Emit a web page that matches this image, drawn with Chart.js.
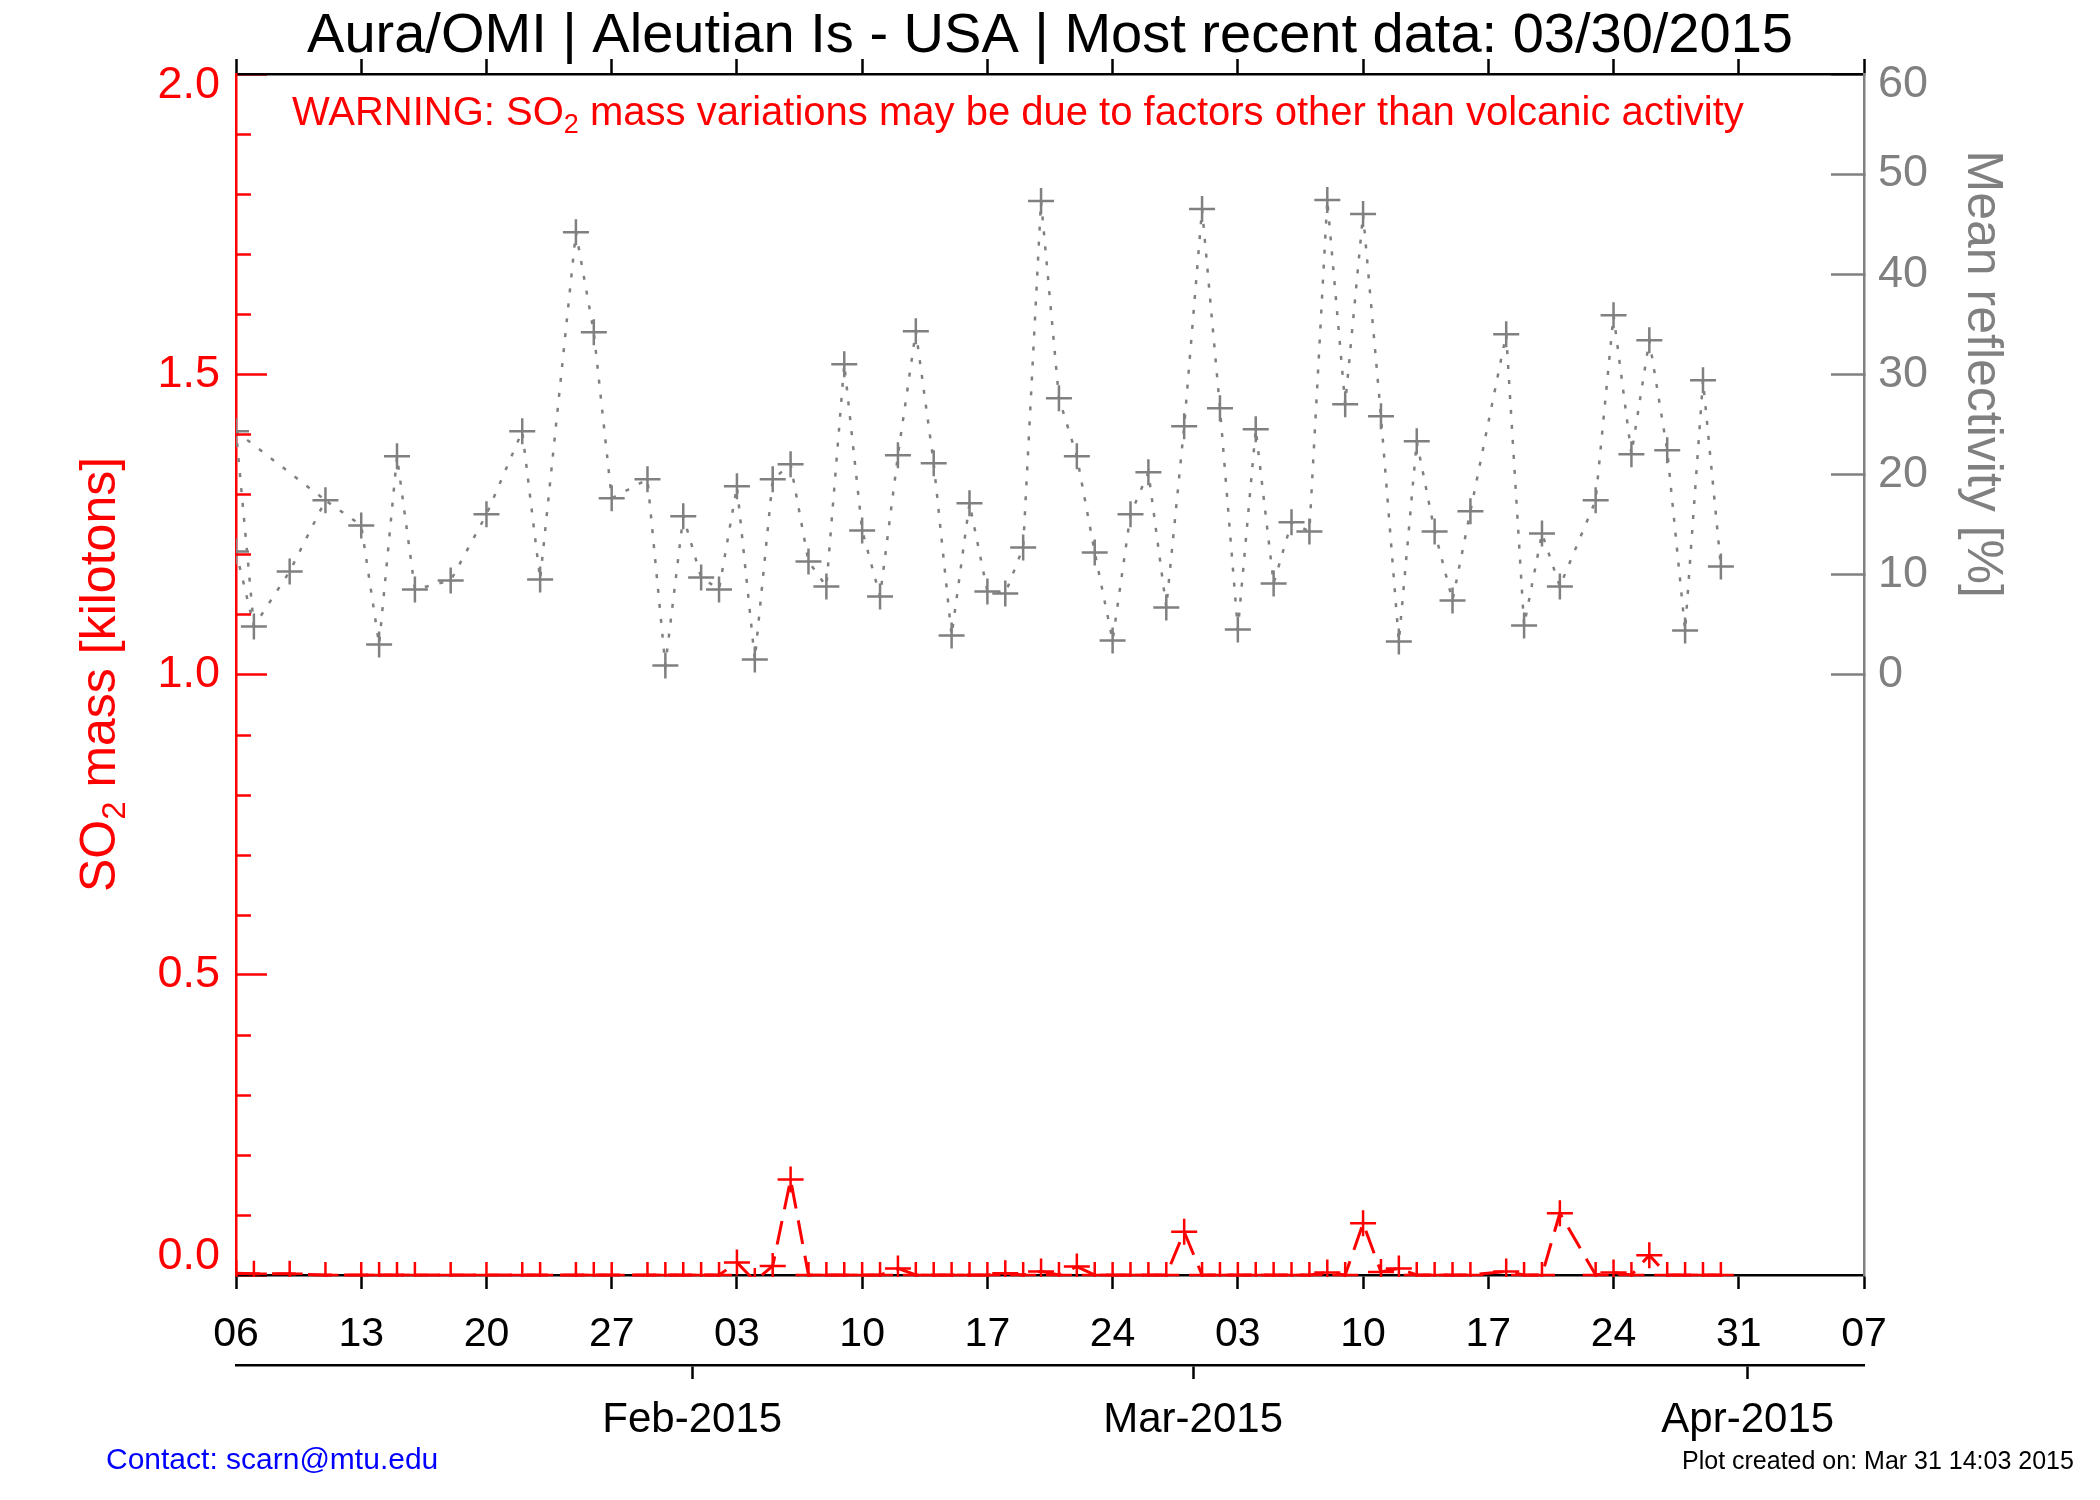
<!DOCTYPE html>
<html><head><meta charset="utf-8">
<script src="https://cdn.jsdelivr.net/npm/chart.js@4.4.1/dist/chart.umd.min.js"></script>
<style>html,body{margin:0;padding:0;background:#fff;}canvas{display:block;}</style>
</head><body>
<canvas id="c" width="2100" height="1500"></canvas>
<script>
// ---------- data ----------
const titleText = 'Aura/OMI | Aleutian Is - USA | Most recent data: 03/30/2015';
const warningParts = ['WARNING: SO', '2', ' mass variations may be due to factors other than volcanic activity'];
const leftTitleParts = ['SO', '2', ' mass [kilotons]'];
const rightTitle = 'Mean reflectivity [%]';
const contactText = 'Contact: scarn@mtu.edu';
const createdText = 'Plot created on: Mar 31 14:03 2015';

// x axis: days since 06-Jan-2015
const xTickDays = [0, 7, 14, 21, 28, 35, 42, 49, 56, 63, 70, 77, 84, 91];
const xTickLabels = ['06', '13', '20', '27', '03', '10', '17', '24', '03', '10', '17', '24', '31', '07'];
const monthTickDays = [25.5, 53.5, 84.5];
const monthTickLabels = ['Feb-2015', 'Mar-2015', 'Apr-2015'];
const so2TickValues = [0, 0.5, 1.0, 1.5, 2.0];
const so2TickLabels = ['0.0', '0.5', '1.0', '1.5', '2.0'];
const reflTickValues = [0, 10, 20, 30, 40, 50, 60];

const obsDays = [0, 0, 1, 3, 5, 7, 8, 9, 10, 12, 14, 16, 17, 19, 20, 21,
  23, 24, 25, 26, 27, 28, 29, 30, 31, 32, 33, 34, 35, 36, 37, 38, 39, 40, 41, 42, 43, 44, 45, 46,
  47, 48, 49, 50, 51, 52, 53, 54, 55, 56, 57, 58, 59, 60, 61, 62, 63, 64, 65, 66, 67, 68, 69,
  71, 72, 73, 74, 76, 77, 78, 79, 80, 81, 82, 83];
const reflValues = [24.3, 12.3, 4.8, 10.3, 17.4, 14.9, 3.0, 21.8, 8.5, 9.4, 16.0, 24.3, 9.5, 44.2, 34.2, 17.6,
  19.5, 0.9, 15.8, 9.7, 8.5, 18.8, 1.5, 19.5, 21.0, 11.3, 8.8, 31.0, 14.4, 7.8, 21.9, 34.3, 21.1, 3.9, 17.1, 8.3, 8.1, 12.7, 47.3, 27.6,
  21.8, 12.2, 3.4, 16.0, 20.2, 6.7, 24.8, 46.5, 26.6, 4.5, 24.5, 9.1, 15.2, 14.3, 47.4, 27.0, 46.0, 25.8, 3.3, 23.3, 14.3, 7.4, 16.3,
  34.0, 4.9, 14.1, 8.8, 17.4, 35.9, 22.0, 33.4, 22.4, 4.4, 29.4, 10.8];
const so2Values = [0.003, 0.003, 0.002, 0.002, 0, 0, 0, 0, 0, 0, 0, 0, 0, 0, 0, 0,
  0, 0, 0, 0, 0, 0.021, -0.01, 0.015, 0.159, 0, 0, 0, 0, 0, 0.011, 0, 0, 0, 0, 0, 0.003, 0, 0.006, 0,
  0.014, 0, 0, 0, 0, 0, 0.072, 0, 0, 0, 0, 0, 0, 0, 0.004, 0, 0.086, 0.005, 0.011, 0, 0, 0, 0,
  0.006, 0, 0, 0.103, 0, 0.004, 0, 0.033, 0, 0, 0, 0];
// reflectivity points joined out of time order at the start of the record
const reflExtraLinkIdx = [2, 0, 4];

// ---------- helpers ----------
const FONT = '"Liberation Sans", Arial, Helvetica, sans-serif';
const RED = '#ff0000', GRAY = '#808080', BLACK = '#000000';

function drawSub(ctx, parts, x, y, size, subSize, subDrop, color, align) {
  ctx.fillStyle = color;
  ctx.textBaseline = 'alphabetic';
  ctx.textAlign = 'left';
  ctx.font = size + 'px ' + FONT;
  const w0 = ctx.measureText(parts[0]).width;
  const w2 = ctx.measureText(parts[2]).width;
  ctx.font = subSize + 'px ' + FONT;
  const w1 = ctx.measureText(parts[1]).width;
  const total = w0 + w1 + w2;
  let sx = align === 'center' ? x - total / 2 : x;
  ctx.font = size + 'px ' + FONT;
  ctx.fillText(parts[0], sx, y);
  ctx.font = subSize + 'px ' + FONT;
  ctx.fillText(parts[1], sx + w0, y + subDrop);
  ctx.font = size + 'px ' + FONT;
  ctx.fillText(parts[2], sx + w0 + w1, y);
}

// edge labels are nudged inside the axis range (as the original plot does)
function edgeLabel(text, shift) {
  if (shift > 0) return ['', text];
  if (shift < 0) return [text, ''];
  return text;
}
function edgeFont(shift) {
  const lh = shift === 0 ? 1.2 : (2 * Math.abs(shift)) / 45;
  return {size: 45, family: FONT, lineHeight: lh};
}
const so2LabelShift = [-18, 0, 0, 0, 12];
const reflLabelShift = [0, 0, 0, 0, 0, 0, 11];

const decorPlugin = {
  id: 'decor',
  afterDraw(chart) {
    const ctx = chart.ctx, a = chart.chartArea;
    const ys = chart.scales.y, y2 = chart.scales.y2;
    ctx.save();
    // minor ticks on SO2 axis (every 0.1)
    ctx.strokeStyle = RED; ctx.lineWidth = 2.5;
    for (let i = 1; i < 20; i++) {
      if (i % 5 === 0) continue;
      const py = Math.round(ys.getPixelForValue(i / 10)) + 0.5;
      ctx.beginPath(); ctx.moveTo(a.left, py); ctx.lineTo(a.left + 15, py); ctx.stroke();
    }
    // title
    ctx.fillStyle = BLACK; ctx.font = '56px ' + FONT; ctx.textAlign = 'center'; ctx.textBaseline = 'alphabetic';
    ctx.fillText(titleText, (a.left + a.right) / 2, 52);
    // warning
    drawSub(ctx, warningParts, 292, 125, 40, 27, 8, RED, 'left');
    // left axis title
    ctx.save();
    ctx.translate(115, (a.top + a.bottom) / 2);
    ctx.rotate(-Math.PI / 2);
    drawSub(ctx, leftTitleParts, 0, 0, 50, 33, 10, RED, 'center');
    ctx.restore();
    // right axis title
    ctx.save();
    ctx.translate(1968, (y2.getPixelForValue(0) + y2.getPixelForValue(60)) / 2);
    ctx.rotate(Math.PI / 2);
    ctx.fillStyle = GRAY; ctx.font = '50px ' + FONT; ctx.textAlign = 'center'; ctx.textBaseline = 'alphabetic';
    ctx.fillText(rightTitle, 0, 0);
    ctx.restore();
    // footers
    ctx.textAlign = 'left'; ctx.textBaseline = 'alphabetic';
    ctx.fillStyle = '#0000ff'; ctx.font = '30px ' + FONT;
    ctx.fillText(contactText, 106, 1469);
    ctx.fillStyle = BLACK; ctx.font = '25px ' + FONT;
    ctx.fillText(createdText, 1682, 1469);
    ctx.restore();
  }
};

const reflPoints = obsDays.map((d, i) => ({x: d, y: reflValues[i]}));
const reflExtra = reflExtraLinkIdx.map(i => ({x: obsDays[i], y: reflValues[i]}));
const so2Points = obsDays.map((d, i) => ({x: d, y: so2Values[i]}));
const CLIP = {left: 0, top: 0, right: 0, bottom: 2};

new Chart(document.getElementById('c'), {
  type: 'line',
  data: {
    datasets: [
      {
        label: 'Mean reflectivity', data: reflPoints, yAxisID: 'y2', xAxisID: 'x',
        borderColor: GRAY, borderWidth: 2.5, borderDash: [4, 11],
        segment: {borderColor: c => (c.p0DataIndex === 0 ? 'rgba(0,0,0,0)' : undefined)},
        pointStyle: 'cross', pointRadius: 13, pointBorderColor: GRAY, pointBorderWidth: 2.5,
        fill: false, tension: 0, clip: CLIP
      },
      {
        label: 'Mean reflectivity link', data: reflExtra, yAxisID: 'y2', xAxisID: 'x',
        borderColor: GRAY, borderWidth: 2.5, borderDash: [4, 11], pointRadius: 0,
        fill: false, tension: 0, clip: CLIP
      },
      {
        label: 'SO2 mass', data: so2Points, yAxisID: 'y', xAxisID: 'x',
        borderColor: RED, borderWidth: 3, borderDash: [24, 12],
        pointStyle: 'cross', pointRadius: 13, pointBorderColor: RED, pointBorderWidth: 2.5,
        fill: false, tension: 0, clip: CLIP
      }
    ]
  },
  options: {
    responsive: false, animation: false, devicePixelRatio: 1,
    layout: {padding: 0},
    plugins: {legend: {display: false}, tooltip: {enabled: false}, title: {display: false}},
    scales: {
      x: {
        type: 'linear', position: 'bottom', min: 0, max: 91, weight: 0,
        afterBuildTicks: s => { s.ticks = xTickDays.map(v => ({value: v})); },
        afterFit: s => { s.height = 90; },
        grid: {drawOnChartArea: false, drawTicks: true, tickLength: 14, color: BLACK, tickWidth: 2.5, tickColor: BLACK},
        border: {display: true, color: BLACK, width: 2.5},
        ticks: {autoSkip: false, maxRotation: 0, color: BLACK, padding: 21, font: {size: 41, family: FONT},
          callback: (v, i) => xTickLabels[i]}
      },
      xm: {
        type: 'linear', position: 'bottom', min: 0, max: 91, weight: 1,
        afterBuildTicks: s => { s.ticks = monthTickDays.map(v => ({value: v})); },
        afterFit: s => { s.height = 135; },
        grid: {drawOnChartArea: false, drawTicks: true, tickLength: 14, color: BLACK, tickWidth: 2.5, tickColor: BLACK},
        border: {display: true, color: BLACK, width: 2.5},
        ticks: {autoSkip: false, maxRotation: 0, color: BLACK, padding: 16, font: {size: 42, family: FONT},
          callback: (v, i) => monthTickLabels[i]}
      },
      xt: {
        type: 'linear', position: 'top', min: 0, max: 91,
        afterBuildTicks: s => { s.ticks = xTickDays.map(v => ({value: v})); },
        afterFit: s => { s.height = 74; },
        grid: {drawOnChartArea: false, drawTicks: true, tickLength: 15, color: BLACK, tickWidth: 2.5, tickColor: BLACK},
        border: {display: true, color: BLACK, width: 2.5},
        ticks: {display: false}
      },
      y: {
        type: 'linear', position: 'left', min: 0, max: 2,
        afterBuildTicks: s => { s.ticks = so2TickValues.map(v => ({value: v})); },
        afterFit: s => { s.width = 236; },
        grid: {drawOnChartArea: false, drawTicks: true, tickLength: -31, color: RED, tickWidth: 2.5, tickColor: RED},
        border: {display: true, color: RED, width: 2.5},
        ticks: {color: RED, padding: 47,
          font: c => edgeFont(so2LabelShift[c.index] || 0),
          callback: (v, i) => edgeLabel(so2TickLabels[i], so2LabelShift[i])}
      },
      y2: {
        type: 'linear', position: 'right', min: -60, max: 60,
        afterBuildTicks: s => { s.ticks = reflTickValues.map(v => ({value: v})); },
        afterFit: s => { s.width = 236; },
        grid: {drawOnChartArea: false, drawTicks: true, tickLength: -33, color: GRAY, tickWidth: 2.5, tickColor: GRAY},
        border: {display: true, color: GRAY, width: 2.5},
        ticks: {color: GRAY, padding: 47,
          font: c => edgeFont(reflLabelShift[c.index] || 0),
          callback: (v, i) => edgeLabel(String(reflTickValues[i]), reflLabelShift[i])}
      }
    }
  },
  plugins: [decorPlugin]
});
</script>
</body></html>
